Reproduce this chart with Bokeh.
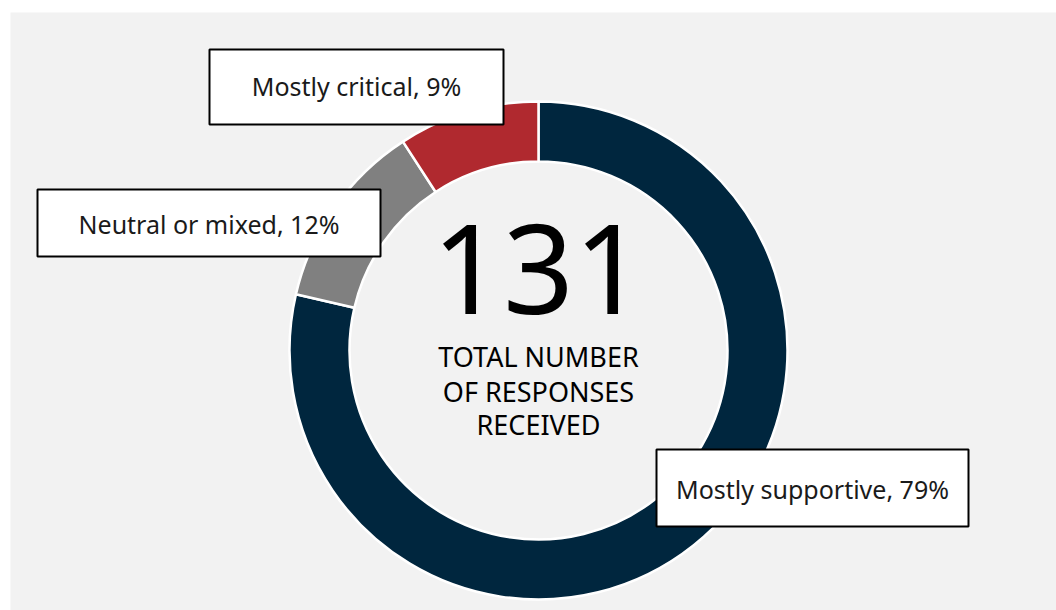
import numpy as np
from bokeh.plotting import figure
from bokeh.models import Range1d, ColumnDataSource
from bokeh.core.properties import value
from bokeh.embed import file_html
from bokeh.resources import INLINE

# ---- data ----
categories = ["Mostly supportive", "Neutral or mixed", "Mostly critical"]
counts = [103, 16, 12]
colors = ["#00263E", "#808080", "#B0292F"]
total_label = "131"
center_lines = ["TOTAL NUMBER", "OF RESPONSES", "RECEIVED"]

total = sum(counts)
pcts = [round(100 * c / total) for c in counts]
labels = [f"{c}, {p}%" for c, p in zip(categories, pcts)]

# angles: start at top, run clockwise
frac = np.array(counts) / total
cum = np.concatenate([[0], np.cumsum(frac)])
start = np.pi / 2 - cum[1:] * 2 * np.pi
end = np.pi / 2 - cum[:-1] * 2 * np.pi

FONT = "Noto Sans"

p = figure(frame_width=1046, frame_height=598, output_backend="svg", toolbar_location=None,
           x_range=Range1d(0, 1046), y_range=Range1d(0, 598),
           min_border_left=10, min_border_top=12, min_border_right=0, min_border_bottom=0,
           background_fill_color="#F2F2F2", border_fill_color="white", outline_line_color=None)
p.axis.visible = False
p.grid.visible = False

cx, cy = 528, 260
src = ColumnDataSource(dict(start=start, end=end, color=colors))
p.annular_wedge(x=cx, y=cy, inner_radius=189, outer_radius=249, start_angle="start", end_angle="end",
                color="color", line_color="white", line_width=2.5, source=src)

# center text
p.text(x=[cx], y=[341], text=[total_label], text_font=value(FONT), text_font_size="124px",
       text_align="center", text_baseline="alphabetic", text_color="#000000")
p.text(x=[cx, cx, cx], y=[254, 219, 186], text=center_lines, text_font=value(FONT),
       text_font_size="27px", text_align="center", text_baseline="alphabetic", text_color="#000000")

# label boxes (supportive, neutral, critical)
bx = [802, 198.5, 346]
by = [122.5, 387.5, 523.5]
bw = [312, 343, 294]
bh = [77, 67, 75]
ty = [122, 387, 525]
p.rect(x=bx, y=by, width=bw, height=bh, fill_color="white", line_color="#000000", line_width=2)
p.text(x=bx, y=ty, text=labels, text_font=value(FONT), text_font_size="25px",
       text_align="center", text_baseline="alphabetic", text_color="#1A1A1A")

open("out.html", "w").write(file_html(p, INLINE))
